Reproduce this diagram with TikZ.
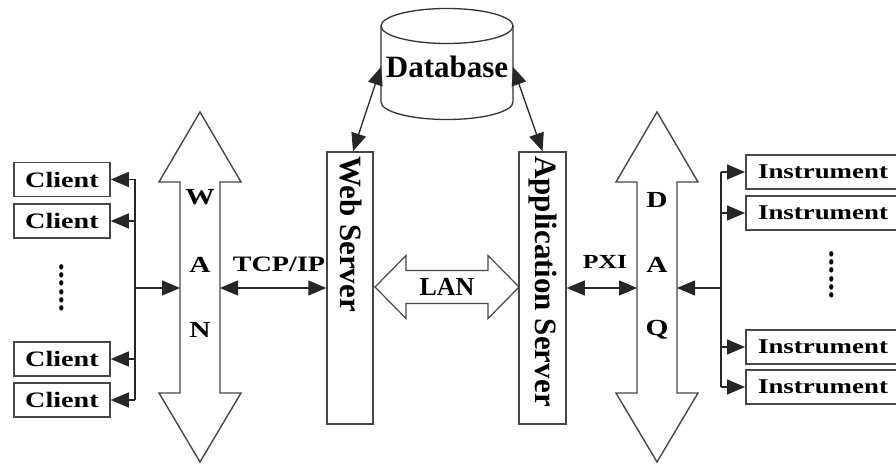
\documentclass[tikz,border=0pt]{standalone}
\usepackage{fontspec}
\setmainfont{Liberation Serif}
\newfontfamily\widefont[FakeStretch=1.28]{Liberation Serif}
\usetikzlibrary{arrows.meta}
\tikzset{
  box/.style={draw=black!72, line width=1.5pt, fill=white, inner sep=0pt},
  wtext/.style={font=\widefont\bfseries\fontsize{21}{24}\selectfont, inner sep=0pt},
  btext/.style={font=\bfseries\fontsize{31}{34}\selectfont, inner sep=0pt},
  bigarrow/.style={draw=black!72, line width=1.4pt, fill=white, line join=miter},
  conn/.style={line width=1.3pt, draw=black!85, -{Triangle[length=18pt,width=15pt]}},
  conn2/.style={line width=1.3pt, draw=black!85, {Triangle[length=18pt,width=15pt]}-{Triangle[length=18pt,width=15pt]}},
  busline/.style={line width=1.3pt, draw=black!85},
}
\begin{document}
\begin{tikzpicture}[x=1pt,y=1pt]
\useasboundingbox (0,0) rectangle (896,465);

% ---- Database cylinder ----
\fill[white] (381,439) -- (381,363) arc[start angle=180,end angle=360,x radius=66,y radius=17.5] -- (513,439) -- cycle;
\draw[line width=1.3pt, draw=black!80] (381,439) -- (381,363) arc[start angle=180,end angle=360,x radius=66,y radius=17.5] -- (513,439);
\draw[line width=1.3pt, draw=black!80, fill=white] (447,439) ellipse[x radius=66, y radius=17.5];
\node[btext] (dbtext) at (447,398) {Database};
\coordinate (dbL) at (381,398);
\coordinate (dbR) at (513,398);

% ---- WAN double arrow ----
\draw[bigarrow] (200,353) -- (241,283) -- (220,283) -- (220,72) -- (241,72) -- (200,3)
  -- (159,72) -- (180,72) -- (180,283) -- (159,283) -- cycle;
\node[wtext, font=\widefont\bfseries\fontsize{23}{24}\selectfont] (w1) at (200,268) {W};
\node[wtext, font=\widefont\bfseries\fontsize{23}{24}\selectfont] (w2) at (200,200) {A};
\node[wtext, font=\widefont\bfseries\fontsize{23}{24}\selectfont] (w3) at (200,135) {N};
\coordinate (wanL) at (180,177);
\coordinate (wanR) at (220,177);

% ---- DAQ double arrow ----
\draw[bigarrow] (657,353) -- (698,283) -- (677,283) -- (677,72) -- (698,72) -- (657,3)
  -- (616,72) -- (637,72) -- (637,283) -- (616,283) -- cycle;
\node[wtext, font=\widefont\bfseries\fontsize{23}{24}\selectfont] (d1) at (657,265) {D};
\node[wtext, font=\widefont\bfseries\fontsize{23}{24}\selectfont] (d2) at (657,200) {A};
\node[wtext, font=\widefont\bfseries\fontsize{23}{24}\selectfont] (d3) at (657,135) {Q};
\coordinate (daqL) at (637,177);
\coordinate (daqR) at (677,177);

% ---- LAN double arrow ----
\draw[bigarrow, line width=1.2pt] (375,178) -- (406,209.5) -- (406,194.5) -- (488,194.5) -- (488,209.5) -- (519,178)
  -- (488,146.5) -- (488,161.5) -- (406,161.5) -- (406,146.5) -- cycle;
\node[font=\bfseries\fontsize{26}{28}\selectfont, inner sep=0pt] (lan) at (447,178) {LAN};

% ---- Servers ----
\node[box, minimum width=46pt, minimum height=272pt] (web) at (350,177) {};
\node[btext, rotate=-90, anchor=west] (webtext) at (351,309) {Web Server};
\node[box, minimum width=47pt, minimum height=272pt] (app) at (542.5,177) {};
\node[btext, rotate=-90, anchor=west] (apptext) at (543,309) {Application Server};

\draw[conn2] (dbL) -- ([xshift=3pt]web.north);
\draw[conn2] (dbR) -- (app.north);

% ---- TCP/IP and PXI ----
\draw[conn2] (wanR) -- (web.west);
\node[wtext, font=\widefont\bfseries\fontsize{22}{24}\selectfont] (tcp) at (279,201) {TCP/IP};
\draw[conn2] (app.east) -- (daqL);
\node[wtext, font=\widefont\bfseries\fontsize{20}{24}\selectfont] (pxi) at (605,203) {PXI};

% ---- Clients ----
\foreach \n/\y in {1/285.5, 2/244, 3/106, 4/65}{
  \node[box, minimum width=96pt, minimum height=34pt, font=\widefont\bfseries\fontsize{22}{24}\selectfont] (c\n) at (62,\y) {Client};
  \coordinate (cb\n) at (135,\y);
  \draw[conn] (cb\n) -- (c\n.east);
}
\draw[busline] (cb1) -- (cb4);
\coordinate (cbm) at (135,177);
\draw[conn] (cbm) -- (wanL);
\node[font=\widefont\bfseries\fontsize{26}{28}\selectfont, rotate=90, inner sep=0pt] (cdots) at (62,177) {......};

% ---- Instruments ----
\foreach \n/\y in {1/293, 2/252, 3/118, 4/78}{
  \node[box, minimum width=155pt, minimum height=34pt, anchor=west] (i\n) at (745,\y) {};
  \node[wtext] (it\n) at (823,\y) {Instrument};
  \coordinate (ib\n) at (721,\y);
  \draw[conn] (ib\n) -- (i\n.west);
}
\draw[busline] (ib1) -- (ib4);
\coordinate (ibm) at (721,177);
\draw[conn] (ibm) -- (daqR);
\node[font=\widefont\bfseries\fontsize{26}{28}\selectfont, rotate=90, inner sep=0pt] (idots) at (832,190) {......};
\end{tikzpicture}
\end{document}
